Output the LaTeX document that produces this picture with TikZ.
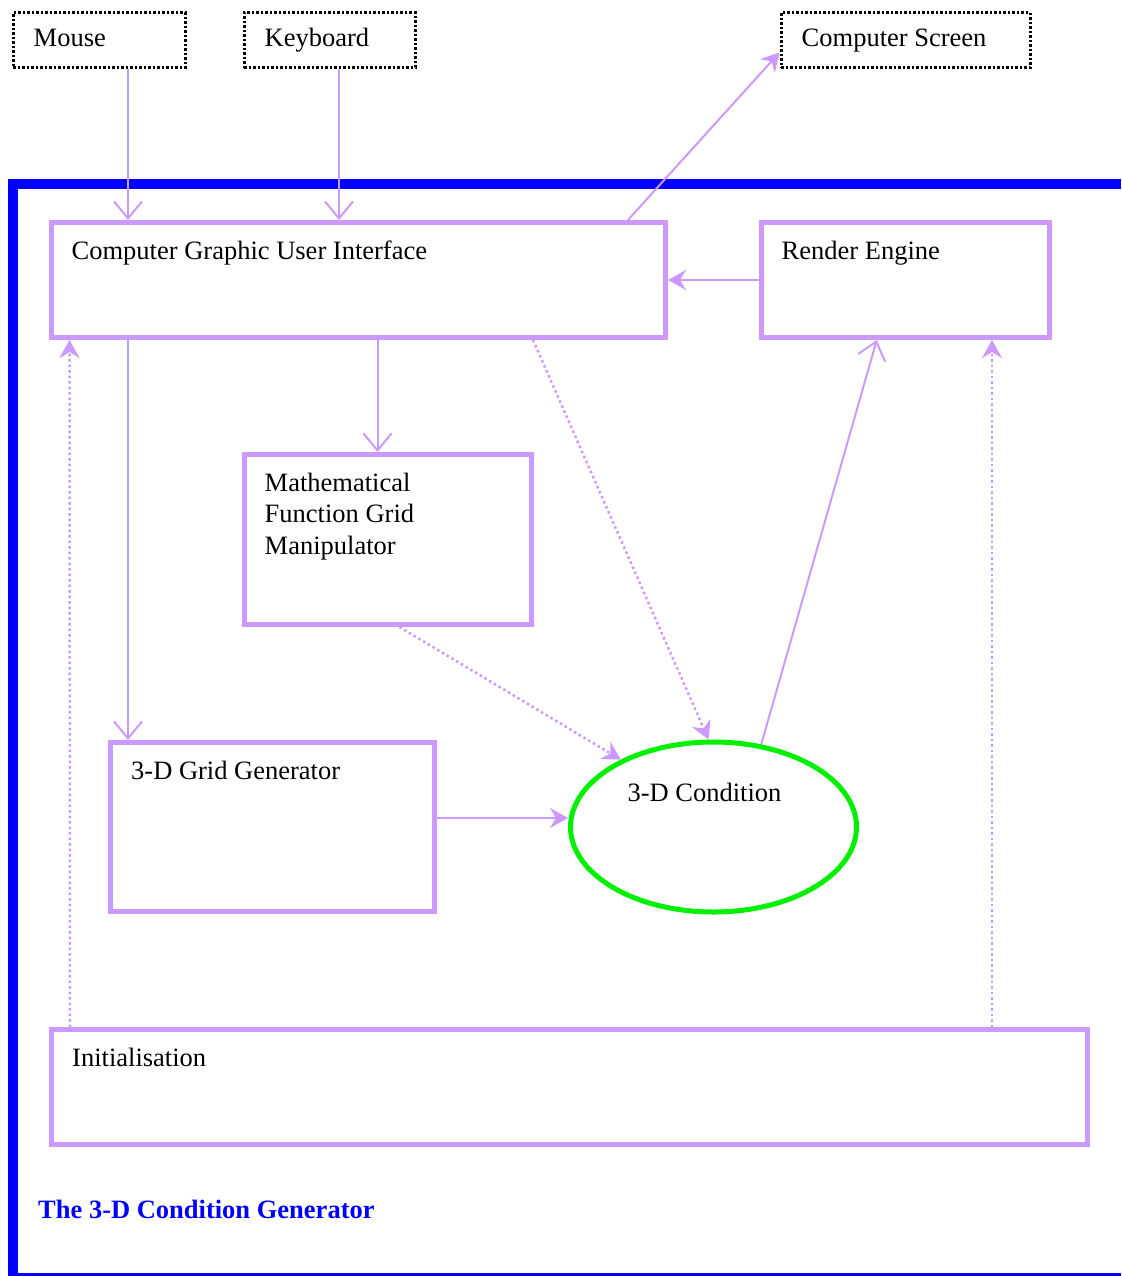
\documentclass[tikz,border=0pt]{standalone}
\usepackage{fontspec}
\setmainfont{Liberation Serif}
\usepackage{tikz}
\usetikzlibrary{arrows.meta,shapes.geometric,calc}
\definecolor{lilac}{RGB}{204,153,255}
\definecolor{frameblue}{RGB}{0,0,255}
\definecolor{condgreen}{RGB}{0,240,0}

\begin{document}
\begin{tikzpicture}[x=1pt, y=-1pt,
    font=\fontsize{26.5}{31.5}\selectfont,
    box/.style={rectangle, draw=lilac, line width=5pt, inner sep=0pt},
    device/.style={rectangle, draw=black, line width=3pt, dash pattern=on 2.5pt off 2pt, inner sep=0pt},
    boxtext/.style={anchor=base west, inner sep=0pt, align=left, xshift=23pt, yshift=-39pt},
    devtext/.style={anchor=base west, inner sep=0pt, xshift=22pt, yshift=-35pt},
    condition/.style={ellipse, draw=condgreen, line width=5pt, inner sep=0pt},
    flow/.style={draw=lilac, line width=2pt, -{Stealth[length=18pt,width=20pt,inset=6pt]}},
    control/.style={draw=lilac, line width=2pt, -{Straight Barb[length=17pt,width=28pt]}},
    dotflow/.style={flow, line width=2.5pt, dash pattern=on 2.5pt off 3pt},
    title/.style={anchor=base west, inner sep=0pt, text=frameblue, font=\fontsize{26.5}{31.5}\selectfont\bfseries}
]
\useasboundingbox (0,0) rectangle (1121,1276);

% system frame
\draw[frameblue, line width=10pt] (1121,184) -- (13,184) -- (13,1276);
\draw[frameblue, line width=3pt] (13,1274) -- (1121,1274);

% outside devices
\node[device, minimum width=172pt, minimum height=55pt, label={[devtext]north west:Mouse}] (mouse) at (99,40.5) {};
\node[device, minimum width=171pt, minimum height=55pt, label={[devtext]north west:Keyboard}] (keyboard) at (329.5,40.5) {};
\node[device, minimum width=249pt, minimum height=55pt, label={[devtext]north west:Computer Screen}] (screen) at (905.5,40.5) {};

% components
\node[box, minimum width=614.5pt, minimum height=115pt, label={[boxtext]north west:Computer Graphic User Interface}] (gui) at (358.25,280) {};
\node[box, minimum width=288.5pt, minimum height=115pt, label={[boxtext]north west:Render Engine}] (render) at (905.25,280) {};
\node[box, minimum width=287pt, minimum height=170pt, label={[boxtext, yshift=-63pt]north west:Mathematical\\Function Grid\\Manipulator}] (mathgrid) at (387.5,539.5) {};
\node[box, minimum width=324pt, minimum height=169pt, label={[boxtext]north west:3-D Grid Generator}] (grid) at (272.5,827) {};
\node[condition, minimum width=286pt, minimum height=170pt, label={[anchor=base, inner sep=0pt, xshift=-9pt, yshift=35pt]center:3-D Condition}] (cond) at (713.5,827) {};
\node[box, minimum width=1035.5pt, minimum height=115pt, label={[boxtext]north west:Initialisation}] (init) at (569.25,1087) {};

\node[title] (caption) at (38,1218) {The 3-D Condition Generator};

% connectors
\draw[control] ([xshift=29pt]mouse.south) -- ([xshift=29pt]mouse.south |- gui.north);
\draw[control] ([xshift=9.5pt]keyboard.south) -- ([xshift=9.5pt]keyboard.south |- gui.north);
\draw[flow] ([xshift=-40pt]gui.north east) -- ([yshift=-12pt]screen.west);
\draw[flow] (render.west) -- (gui.east);
\draw[control] ([xshift=-10pt]mathgrid.north |- gui.south) -- ([xshift=-10pt]mathgrid.north);
\draw[control] ([xshift=20pt]grid.north west |- gui.south) -- ([xshift=20pt]grid.north west);
\draw[dotflow] ([xshift=-135pt]gui.south east) -- ([xshift=-5pt]cond.north);
\draw[dotflow] ([xshift=12pt]mathgrid.south) -- (cond.144);
\draw[flow] ([yshift=9pt]grid.east) -- ([yshift=9pt]cond.west);
\draw[control] (cond.60) -- ([xshift=-28.5pt]render.south);
\draw[dotflow] ([xshift=21pt]init.north west) -- ([xshift=21pt]gui.south west);
\draw[dotflow] ([xshift=-60pt]render.south east |- init.north) -- ([xshift=-60pt]render.south east);
\end{tikzpicture}
\end{document}
